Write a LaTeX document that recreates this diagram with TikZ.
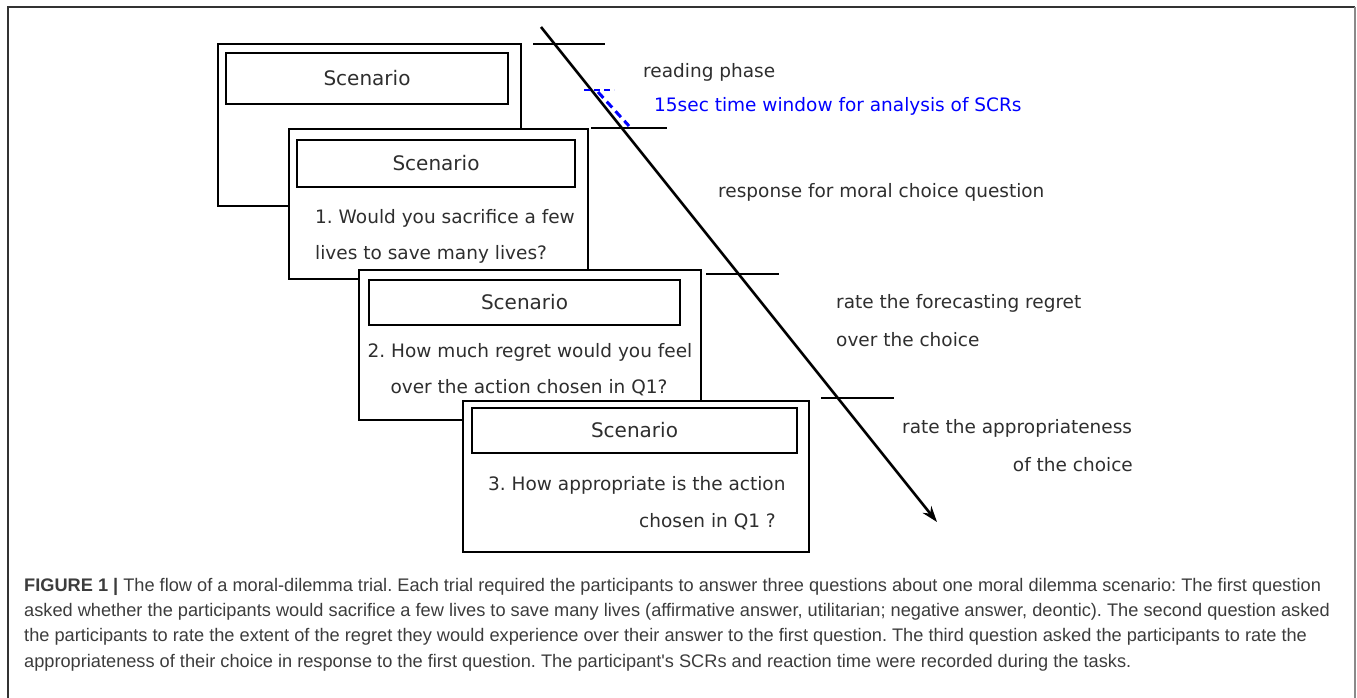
\documentclass[tikz,border=0pt]{standalone}
\usepackage{fontspec}
\setmainfont{DejaVu Sans}
\newfontfamily\capfont{Liberation Sans}
\usetikzlibrary{arrows.meta}
\definecolor{tcol}{HTML}{2E2E2E}
\definecolor{bcol}{HTML}{0000FF}
\definecolor{fcol}{HTML}{8A8A8A}
\definecolor{ccol}{HTML}{3C3C3C}
\frenchspacing

\tikzset{
  card/.style={draw=black,line width=2.8pt,fill=white,anchor=north west,inner sep=0pt,outer sep=0pt},
  scenbox/.style={draw=black,line width=2.8pt,anchor=north west,inner sep=0pt,outer sep=0pt,
    text=tcol,font=\fontsize{20}{24}\selectfont},
  qtext/.style={anchor=base west,inner sep=0pt,text=tcol,font=\fontsize{18.5}{22}\selectfont},
  phase/.style={anchor=base west,inner sep=0pt,text=tcol,font=\fontsize{18.5}{22}\selectfont},
  tickline/.style={line width=2.2pt},
}

\begin{document}
\begin{tikzpicture}[x=1pt,y=-1pt,>={Stealth[length=16pt,width=11pt]}]
\useasboundingbox (0,0) rectangle (1357,698);
% frame
\draw[line width=1.6pt,black!80] (8,698)--(8,7)--(1355,7);
\draw[line width=2pt,fcol] (1355,7)--(1355,698);

% the four screens
\node[card,minimum width=303pt,minimum height=162pt] (card1) at (218,44) {};
\node[scenbox,minimum width=282pt,minimum height=51pt] (scen1) at (226,53) {Scenario};
\node[card,minimum width=299pt,minimum height=150pt] (card2) at (289,129) {};
\node[scenbox,minimum width=278pt,minimum height=47pt] (scen2) at (297,140) {Scenario};
\node[qtext] (q1a) at (315,223) {1. Would you sacrifice a few};
\node[qtext] (q1b) at (315,259) {lives to save many lives?};
\node[card,minimum width=342pt,minimum height=150pt] (card3) at (359,270) {};
\node[scenbox,minimum width=311pt,minimum height=45pt] (scen3) at (369,280) {Scenario};
\node[qtext,anchor=base] (q2a) at (530,357) {2. How much regret would you feel};
\node[qtext,anchor=base] (q2b) at (529,393) {over the action chosen in Q1?};
\node[card,minimum width=346pt,minimum height=151pt] (card4) at (463,401) {};
\node[scenbox,minimum width=325pt,minimum height=45pt] (scen4) at (472,408) {Scenario};
\node[qtext] (q3a) at (488,490) {3. How appropriate is the action};
\node[qtext,anchor=base east] (q3b) at (776,527) {chosen in Q1 ?};

% time line
\coordinate (tstart) at (541,27);
\coordinate (tend) at (937,522);
\draw[->,line width=2.6pt] (tstart)--(tend);
\draw[tickline] (533,44)--(605,44);
\draw[tickline] (591,128)--(667,128);
\draw[tickline] (706,274)--(779,274);
\draw[tickline] (821,398)--(894,398);
\draw[bcol,line width=1.8pt,dash pattern=on 6pt off 4pt] (584,90)--(614,90);
\draw[bcol,line width=3pt,dash pattern=on 8pt off 5pt] (598,92)--(629,126);

% phase labels
\node[phase] (read) at (643,78) {reading phase};
\node[phase,text=bcol] (win) at (654,112) {15sec time window for analysis of SCRs};
\node[phase] (resp) at (718,197) {response for moral choice question};
\node[phase] (rega) at (836,308) {rate the forecasting regret};
\node[phase] (regb) at (836,346) {over the choice};
\node[phase] (appa) at (902,433) {rate the appropriateness};
\node[phase,anchor=base east] (appb) at (1133,471) {of the choice};

% caption
\node[anchor=base west,inner sep=0pt,align=left,text=ccol,
  font=\capfont\fontsize{18.2}{25.3}\selectfont] (cap) at (24,667)
  {\textbf{FIGURE 1 |} The flow of a moral-dilemma trial. Each trial required the participants to answer three questions about one moral dilemma scenario: The first question\\
  asked whether the participants would sacrifice a few lives to save many lives (affirmative answer, utilitarian; negative answer, deontic). The second question asked\\
  the participants to rate the extent of the regret they would experience over their answer to the first question. The third question asked the participants to rate the\\
  appropriateness of their choice in response to the first question. The participant's SCRs and reaction time were recorded during the tasks.};
\end{tikzpicture}
\end{document}
